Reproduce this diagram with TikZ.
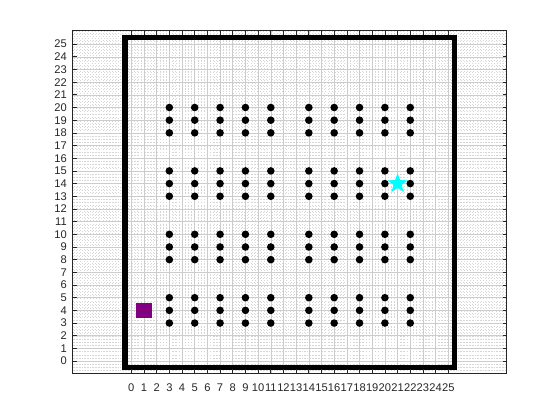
\documentclass[tikz,border=0pt]{standalone}
\usepackage{fontspec}
\setmainfont{Liberation Sans}
\usepackage{xcolor}
\usepackage{tikz}
\usetikzlibrary{shapes.geometric}

\definecolor{startpurple}{RGB}{128,0,128}
\definecolor{goalcyan}{RGB}{0,255,255}

\begin{document}
\begin{tikzpicture}[
  x=0.3cm, y=0.3cm,
  majorgrid/.style={draw=black!20, line width=0.35pt},
  minorgrid/.style={draw=black!16, line width=0.3pt, dash pattern=on 0.3pt off 1.8pt},
  axisline/.style={draw=black!85, line width=0.45pt},
  wall/.style={draw=black, line width=3.4pt},
  seat/.style={circle, fill=black, inner sep=0pt, minimum size=5.1pt},
  ticklabel/.style={inner sep=0pt, font=\fontsize{7.5}{9}\selectfont, text=black!85}
]
\useasboundingbox (-10.357,-4.646) rectangle (33.81,28.48);
\fill[white] (-4.616,-1) rectangle (29.616,26.06);

% minor grid
\foreach \gx in {-4.5,-4.25,...,29.6}
  \draw[minorgrid] (\gx,-1) -- (\gx,26.06);
\foreach \gy in {-0.75,-0.5,...,26.0}
  \draw[minorgrid] (-4.616,\gy) -- (29.616,\gy);

% major grid
\foreach \k in {0,...,25} {
  \draw[majorgrid] (\k,-1) -- (\k,26.06);
  \draw[majorgrid] (-4.616,\k) -- (29.616,\k);
}

% outer wall
\draw[wall] (-0.5,-0.5) rectangle (25.5,25.5);

% seat blocks
\foreach \row in {3,8,13,18}
  \foreach \dy in {0,1,2}
    \foreach \col in {3,5,7,9,11,14,16,18,20,22}
      \node[seat] (d-\col-\the\numexpr\row+\dy\relax) at (\col,\row+\dy) {};

% start and goal
\node[rectangle, fill=startpurple, inner sep=0pt, minimum size=10.4pt] (start) at (1,4) {};
\node[star, star points=5, star point ratio=2.4, fill=goalcyan, inner sep=0pt, minimum size=14pt] (goal) at (21,14) {};

% axes box and ticks
\draw[axisline] (-4.616,-1) rectangle (29.616,26.06);
\foreach \k in {0,...,25} {
  \draw[axisline] (\k,-1) -- (\k,-0.66);
  \draw[axisline] (\k,26.06) -- (\k,25.72);
  \draw[axisline] (-4.616,\k) -- (-4.276,\k);
  \draw[axisline] (29.616,\k) -- (29.276,\k);
  \node[ticklabel] (xl\k) at (\k,-2.12) {\k};
  \node[ticklabel, anchor=east] (yl\k) at (-5.07,\k) {\k};
}
\end{tikzpicture}
\end{document}
